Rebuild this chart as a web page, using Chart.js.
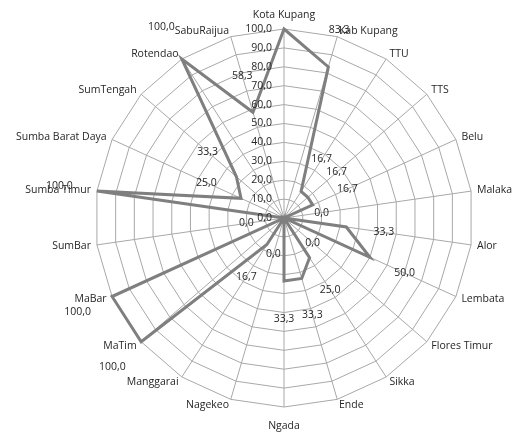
<!DOCTYPE html>
<html>
<head>
<meta charset="utf-8">
<script src="https://cdn.jsdelivr.net/npm/chart.js@4/dist/chart.umd.min.js"></script>
<style>
body{margin:0;background:#fff;}
#wrap{width:513px;height:432px;}
</style>
</head>
<body>
<div id="wrap"><canvas id="radarChart" width="513" height="432"></canvas></div>
<script>
const categories = [
"Kota Kupang","Kab Kupang","TTU","TTS","Belu","Malaka","Alor","Lembata",
"Flores Timur","Sikka","Ende","Ngada","Nagekeo","Manggarai","MaTim","MaBar",
"SumBar","Sumba Timur","Sumba Barat Daya","SumTengah","Rotendao","SabuRaijua"
];
const values = [100,83.3,16.7,16.7,16.7,0,33.3,50,0,25,33.3,33.3,0,16.7,100,100,0,100,25,33.3,100,58.3];
const tickValues = [0,10,20,30,40,50,60,70,80,90,100];

const FONT = "10.5px 'Open Sans'";
const TEXT = "#262626";

function fmt(v){ return v.toFixed(1).replace(".", ","); }

// draws category names, axis ticks and value labels
const labelPlugin = {
  id: "labels",
  afterDraw(chart){
    const ctx = chart.ctx;
    const scale = chart.scales.r;
    const R = scale.drawingArea;
    ctx.save();
    ctx.font = FONT;
    ctx.fillStyle = TEXT;

    // tick labels left of the vertical axis
    ctx.textAlign = "right";
    ctx.textBaseline = "middle";
    tickValues.forEach(t => {
      const d = scale.getDistanceFromCenterForValue(t);
      ctx.fillText(fmt(t), scale.xCenter - 12, scale.yCenter - d);
    });

    // category labels
    categories.forEach((name, i) => {
      const deg = scale.getIndexAngle(i) * 180 / Math.PI;
      const p = scale.getPointPosition(i, R + 6);
      let x = p.x, y = p.y;
      if (Math.abs(deg) < 0.5) { ctx.textAlign = "center"; y -= 8; }
      else if (Math.abs(deg - 180) < 0.5) { ctx.textAlign = "center"; y += 13; }
      else if (deg < 180) { ctx.textAlign = "left"; }
      else { ctx.textAlign = "right"; }
      ctx.fillText(name, x, y);
    });

    // value labels
    ctx.textAlign = "center";
    values.forEach((v, i) => {
      const p = scale.getPointPosition(i, scale.getDistanceFromCenterForValue(v) + 38);
      ctx.fillText(fmt(v), p.x, p.y);
    });
    ctx.restore();
  }
};

new Chart(
document.getElementById("radarChart"),
{
type:"radar",
data:{
labels:categories,
datasets:[{
label:"Nilai",
data:values,
borderColor:"#7f7f7f",
borderWidth:3,
pointRadius:0,
pointHoverRadius:0,
fill:false,
tension:0
}]
},
options:{
responsive:false,
animation:false,
layout:{padding:{left:95,right:40,top:29,bottom:25}},
plugins:{legend:{display:false},tooltip:{enabled:false}},
scales:{
r:{
min:0,
max:100,
ticks:{stepSize:10,display:false},
pointLabels:{display:false},
grid:{color:"#a8a8a8",lineWidth:1},
angleLines:{color:"#a8a8a8",lineWidth:1}
}
}
},
plugins:[labelPlugin]
});
</script>
</body>
</html>
